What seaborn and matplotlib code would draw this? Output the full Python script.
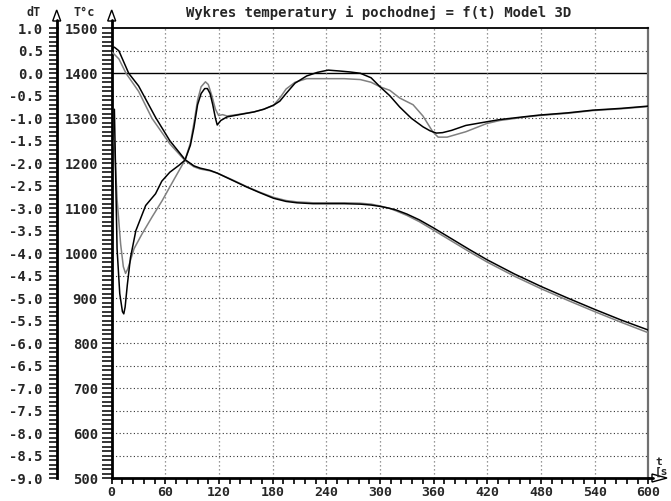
import numpy as np
import pandas as pd
import seaborn as sns
import matplotlib
matplotlib.use('Agg')
import matplotlib.pyplot as plt
from matplotlib.ticker import MultipleLocator, FuncFormatter, FixedLocator
from matplotlib.patches import Polygon
from matplotlib.lines import Line2D

# ---------------- data ----------------
t_temp_a = [0, 3, 8, 19, 30, 49, 65, 82, 92, 99, 110, 118, 135, 151, 165, 181, 195, 207, 225, 240,
            260, 278, 290, 300, 310, 318, 330, 344, 360, 380, 400, 420, 450, 480, 510, 540, 570, 600]
temp_a = [1455, 1458, 1450, 1400, 1372, 1302, 1250, 1208, 1194, 1189, 1184, 1178, 1162, 1147, 1135,
          1122, 1115, 1112, 1110, 1110, 1110, 1109, 1107, 1104, 1100, 1096, 1087, 1074, 1056, 1032,
          1008, 985, 954, 926, 900, 875, 851, 829]

t_temp_b = [0, 2, 8, 16, 30, 45, 65, 82, 92, 99, 110, 118, 135, 151, 165, 181, 195, 207, 225, 240,
            260, 278, 290, 300, 310, 318, 330, 344, 360, 380, 400, 420, 450, 480, 510, 540, 570, 600]
temp_b = [1447, 1444, 1432, 1400, 1360, 1300, 1243, 1206, 1192, 1187, 1183, 1178, 1163, 1148, 1136,
          1124, 1117, 1114, 1112, 1112, 1112, 1111, 1109, 1105, 1100, 1094, 1084, 1070, 1051, 1027,
          1003, 980, 949, 921, 895, 870, 846, 823]

t_deriv_a = [3, 6, 9, 12, 13.5, 15, 17.5, 21, 27, 38, 49, 56, 65, 75, 82, 88, 92, 96, 100, 104,
             107, 110, 113, 116, 118, 122, 129, 140, 159, 170, 181, 188, 195, 205, 218, 230, 242,
             255, 266, 278, 290, 300, 311, 322, 335, 348, 356, 363, 370, 380, 396, 419, 434, 460,
             478, 510, 538, 570, 600]
deriv_a = [-0.8, -3.9, -4.9, -5.3, -5.35, -5.2, -4.7, -4.1, -3.5, -2.94, -2.68, -2.4, -2.2, -2.05,
           -1.93, -1.6, -1.2, -0.7, -0.45, -0.34, -0.34, -0.45, -0.7, -1.0, -1.15, -1.05, -0.97,
           -0.93, -0.86, -0.8, -0.71, -0.62, -0.45, -0.22, -0.06, 0.02, 0.07, 0.05, 0.03, 0.0,
           -0.1, -0.3, -0.5, -0.75, -1.0, -1.19, -1.28, -1.33, -1.32, -1.27, -1.16, -1.08, -1.03,
           -0.97, -0.93, -0.88, -0.82, -0.78, -0.73]

t_deriv_b = [3, 6, 10, 13, 15.5, 18, 21, 25, 34, 45, 56.5, 70, 82, 88, 92, 96, 100, 104.8, 108,
             112, 116, 119.6, 124, 129, 140, 159, 170, 181, 188, 195, 205, 218, 230, 242, 260, 278,
             290, 300, 311, 322, 337, 348, 359, 365, 375, 396, 419, 434, 460, 478, 510, 538, 570, 600]
deriv_b = [-1.5, -2.8, -3.8, -4.3, -4.45, -4.35, -4.16, -3.9, -3.57, -3.2, -2.83, -2.35, -1.93,
           -1.55, -1.1, -0.6, -0.3, -0.19, -0.25, -0.5, -0.8, -0.94, -0.92, -0.95, -0.92, -0.86,
           -0.8, -0.71, -0.55, -0.35, -0.2, -0.12, -0.12, -0.12, -0.12, -0.14, -0.2, -0.3, -0.38,
           -0.55, -0.7, -0.95, -1.3, -1.42, -1.42, -1.3, -1.12, -1.05, -0.98, -0.94, -0.89, -0.83,
           -0.79, -0.74]

x_ticks = [0, 60, 120, 180, 240, 300, 360, 420, 480, 540, 600]
temp_ticks = [500, 600, 700, 800, 900, 1000, 1100, 1200, 1300, 1400, 1500]
deriv_ticks = [-9.0, -8.5, -8.0, -7.5, -7.0, -6.5, -6.0, -5.5, -5.0, -4.5, -4.0, -3.5, -3.0,
               -2.5, -2.0, -1.5, -1.0, -0.5, 0.0, 0.5, 1.0]

title = "Wykres temperatury i pochodnej = f(t) Model 3D"

# ---------------- figure ----------------
sns.set_style('white')
plt.rcParams['font.family'] = ['DejaVu Sans Mono', 'DejaVu Sans']
plt.rcParams['font.weight'] = 'bold'

W, H = 671, 501
fig = plt.figure(figsize=(W / 100, H / 100), dpi=100)
x0, x1, y0, y1 = 111.7, 648.3, 28.3, 478.0  # pixel positions of the plot frame
ax = fig.add_axes([x0 / W, 1 - y1 / H, (x1 - x0) / W, (y1 - y0) / H])
ax2 = ax.twinx()

def fx(px):
    return px / W

def fy(py):
    return 1 - py / H

ax.set_xlim(0, 600)
ax.set_ylim(500, 1500)
ax2.set_ylim(-9.0, 1.0)

# grid
for yv in np.arange(550, 1500, 50):
    if yv == 1400:
        ax.axhline(yv, color='black', lw=1.0, zorder=1)
    else:
        ax.axhline(yv, color='#333333', lw=0.8, ls=(0, (1, 2.2)), zorder=1)
for xv in x_ticks[1:-1]:
    ax.axvline(xv, color='#777777', lw=0.9, ls=(0, (1, 2.2)), zorder=1)

# curves
sns.lineplot(x=t_temp_b, y=temp_b, ax=ax, color='#808080', lw=1.1, zorder=3)
sns.lineplot(x=t_temp_a, y=temp_a, ax=ax, color='black', lw=1.1, zorder=3)
sns.lineplot(x=t_deriv_b, y=deriv_b, ax=ax2, color='#808080', lw=1.1, zorder=3)
sns.lineplot(x=t_deriv_a, y=deriv_a, ax=ax2, color='black', lw=1.1, zorder=3)

# x axis
ax.xaxis.set_major_locator(FixedLocator(x_ticks))
ax.xaxis.set_minor_locator(MultipleLocator(12))
ax.tick_params(axis='x', which='both', direction='out', length=4.5, width=1.2,
               pad=1.5, labelsize=9.5, bottom=True, color='black')
ax.set_xticklabels([str(v) for v in x_ticks])

# T axis (main, at frame left)
ax.yaxis.set_major_locator(FixedLocator(temp_ticks))
ax.yaxis.set_minor_locator(MultipleLocator(10))
ax.yaxis.set_major_formatter(FuncFormatter(lambda v, p: f"{int(round(v))}"))
ax.tick_params(axis='y', which='both', direction='out', length=7.5, width=1.1,
               pad=2.5, labelsize=10, left=True, right=False, color='black')

# dT axis (offset to the left)
ax2.yaxis.tick_left()
ax2.yaxis.set_label_position('left')
ax2.spines['left'].set_position(('outward', 39.6))
ax2.yaxis.set_major_locator(FixedLocator(deriv_ticks))
ax2.yaxis.set_minor_locator(MultipleLocator(0.1))

def dfmt(v, p):
    if abs(v) < 1e-9:
        return "0.0"
    return f"{v:.1f}"

ax2.yaxis.set_major_formatter(FuncFormatter(dfmt))
ax2.tick_params(axis='y', which='both', direction='out', length=6, width=1.1,
                pad=4, labelsize=10, left=True, right=False, color='black')
ax.set_xlabel('')
ax.set_ylabel('')
ax2.set_ylabel('')

# spines
for s in ['top', 'right', 'bottom']:
    ax2.spines[s].set_visible(False)
ax2.spines['left'].set_linewidth(2.0)
ax2.spines['left'].set_color('black')
ax.spines['left'].set_linewidth(2.0)
ax.spines['left'].set_color('black')
ax.spines['bottom'].set_linewidth(2.0)
ax.spines['bottom'].set_color('black')
ax.spines['top'].set_linewidth(1.3)
ax.spines['top'].set_color('black')
ax.spines['right'].set_linewidth(1.6)
ax.spines['right'].set_color('#707070')

# axis extensions and arrows
dT_x = x0 - 55.0
for xs in (x0, dT_x):
    fig.add_artist(Line2D([fx(xs), fx(xs)], [fy(y0), fy(20)], color='black', lw=2.0,
                          transform=fig.transFigure))
    fig.add_artist(Polygon([(fx(xs - 4), fy(21)), (fx(xs + 4), fy(21)), (fx(xs), fy(10))],
                           closed=True, facecolor='white', edgecolor='black', lw=1.0,
                           transform=fig.transFigure))
fig.add_artist(Line2D([fx(x1), fx(653)], [fy(y1), fy(y1)], color='black', lw=2.0,
                      transform=fig.transFigure))
fig.add_artist(Polygon([(fx(652), fy(y1 - 4)), (fx(652), fy(y1 + 4)), (fx(667), fy(y1))],
                       closed=True, facecolor='white', edgecolor='black', lw=1.0,
                       transform=fig.transFigure))

# texts
fig.text(fx(379), fy(13), title, ha='center', va='center', fontsize=10, fontweight='bold')
fig.text(fx(34), fy(12), 'dT', ha='center', va='center', fontsize=8.5, fontweight='bold')
fig.text(fx(84), fy(12), 'T°c', ha='center', va='center', fontsize=8.5, fontweight='bold')
fig.text(fx(655), fy(462), 't', ha='left', va='center', fontsize=8, fontweight='bold')
fig.text(fx(655), fy(472), '[s', ha='left', va='center', fontsize=8, fontweight='bold')

fig.savefig('out.png', dpi=100)
